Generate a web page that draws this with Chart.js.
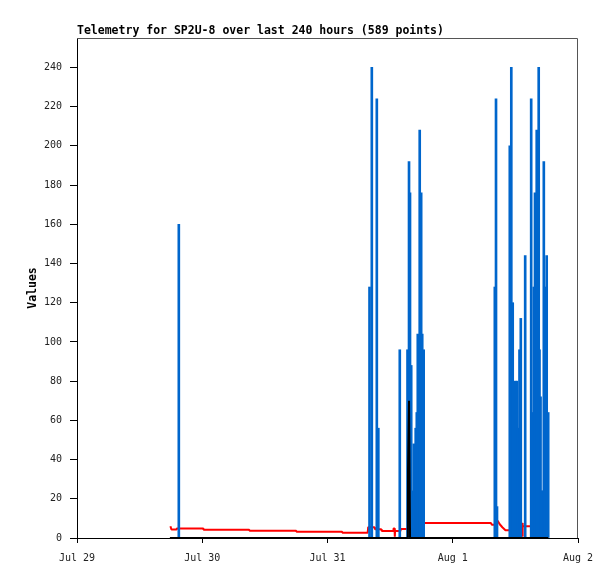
<!DOCTYPE html>
<html>
<head>
<meta charset="utf-8">
<script src="https://cdn.jsdelivr.net/npm/chart.js@4/dist/chart.umd.min.js"></script>
<style>
  body { margin: 0; background: #fff; }
  #box { width: 615px; height: 579px; }
</style>
</head>
<body>
<div id="box"><canvas id="telemetry-chart"></canvas></div>
<script>
// hours since Jul 29 00:00
const xTickLabels = ['Jul 29', 'Jul 30', 'Jul 31', 'Aug 1', 'Aug 2']
const xTickHours = [0, 24, 48, 72, 96]
const yTicks = [0, 20, 40, 60, 80, 100, 120, 140, 160, 180, 200, 220, 240]

const blueHours = [19.51, 56.05, 56.49, 57.45, 57.74, 61.85, 63.33, 63.62, 63.81, 64.04,
  64.23, 64.54, 64.90, 65.11, 65.30, 65.67, 65.95, 66.15, 66.43,
  80.06, 80.29, 80.48, 82.93, 83.22, 83.49, 83.99, 84.31, 84.56, 84.79, 85.04, 85.88,
  87.03, 87.24, 87.53, 87.76, 88.09, 88.47, 88.62, 88.82, 89.05, 89.20, 89.45, 89.68, 90.00, 90.29]
const blueValues = [160, 128, 240, 224, 56, 96, 96, 192, 176, 88,
  24, 48, 56, 64, 104, 208, 176, 104, 96,
  128, 224, 16, 200, 240, 120, 80, 80, 56, 96, 112, 144,
  224, 64, 128, 176, 208, 240, 96, 72, 24, 24, 192, 128, 144, 64]

const redHours = [17.9, 18.1, 19.0, 19.1, 24.2, 24.25, 33.0, 33.05, 42.0, 42.05, 50.8, 50.85,
  55.7, 55.8, 57.0, 57.1, 58.3, 58.4, 60.6, 60.65, 60.85, 60.9, 60.95, 61.9, 62.0,
  64.3, 64.4, 65.8, 65.9, 79.3, 79.5, 80.0, 80.6, 81.0, 81.5, 82.1, 83.3, 83.5,
  85.2, 85.3, 85.35, 85.45, 86.8]
const redValues = [6.0, 4.3, 4.3, 4.8, 4.8, 4.2, 4.2, 3.7, 3.7, 3.2, 3.2, 2.7,
  2.7, 5.5, 5.5, 4.4, 4.4, 3.6, 3.6, 4.9, 4.9, 0.6, 3.6, 3.6, 4.6,
  4.6, 6.6, 6.6, 7.7, 7.7, 6.8, 6.8, 8.8, 7.0, 5.5, 4.0, 4.0, 4.6,
  4.6, 7.7, 0.7, 6.0, 6.0]

const blackHours = [17.8, 63.4, 63.43, 63.62, 63.78, 63.82, 90.3]
const blackValues = [0, 0, 35, 70, 70, 0, 0]

const ctx = document.querySelector('#telemetry-chart')
const mono = '"DejaVu Sans Mono", "Liberation Mono", monospace'

function pontos(xs, ys) {
  return xs.map((x, i) => ({ x: x, y: ys[i] }))
}

// title over the plot and the grey top/right frame
const moldura = {
  id: 'moldura',
  beforeDatasetsDraw(chart) {
    const c = chart.ctx
    const a = chart.chartArea
    c.save()
    c.strokeStyle = '#555'
    c.lineWidth = 1
    c.beginPath()
    c.moveTo(a.left, a.top + 0.5)
    c.lineTo(a.right - 0.5, a.top + 0.5)
    c.lineTo(a.right - 0.5, a.bottom)
    c.stroke()
    c.fillStyle = '#000'
    c.font = 'bold 11.5px ' + mono
    c.textBaseline = 'alphabetic'
    c.fillText('Telemetry for SP2U-8 over last 240 hours (589 points)', a.left, a.top - 4)
    c.restore()
  }
}

var chart = new Chart(ctx, {
  type: 'bar',
  data: {
    datasets: [
      {
        type: 'line',
        data: pontos(blackHours, blackValues),
        borderColor: '#000',
        borderWidth: 2,
        borderJoinStyle: 'bevel',
        pointRadius: 0,
        clip: 4,
        order: 0
      },
      {
        data: pontos(blueHours, blueValues),
        backgroundColor: '#0066cc',
        borderWidth: 0,
        barThickness: 2,
        order: 1
      },
      {
        type: 'line',
        data: pontos(redHours, redValues),
        borderColor: '#ff0000',
        borderWidth: 2,
        borderJoinStyle: 'bevel',
        pointRadius: 0,
        clip: 4,
        order: 2
      }
    ]
  },
  options: {
    responsive: true,
    maintainAspectRatio: false,
    animation: false,
    layout: { padding: { left: 0, top: 38, right: 37, bottom: 0 } },
    plugins: { legend: { display: false }, tooltip: { enabled: false } },
    scales: {
      x: {
        type: 'linear',
        min: 0,
        max: 96,
        offset: false,
        afterFit: s => { s.height = 41 },
        afterBuildTicks: s => { s.ticks = xTickHours.map(v => ({ value: v })) },
        ticks: {
          autoSkip: false,
          maxRotation: 0,
          padding: 9,
          color: '#222',
          font: { family: mono, size: 10 },
          callback: (v, i) => xTickLabels[i]
        },
        grid: {
          display: true,
          offset: false,
          drawOnChartArea: false,
          drawTicks: true,
          tickLength: 5,
          tickWidth: 1,
          tickColor: '#000',
          color: '#000'
        },
        border: { color: '#000' }
      },
      y: {
        min: 0,
        max: 255,
        afterFit: s => { s.width = 77 },
        afterBuildTicks: s => { s.ticks = yTicks.map(v => ({ value: v })) },
        ticks: {
          padding: 8,
          color: '#222',
          font: { family: mono, size: 10 }
        },
        grid: { drawOnChartArea: false, tickLength: 7, tickColor: '#000', color: '#000' },
        border: { color: '#000' },
        title: {
          display: true,
          text: 'Values',
          color: '#000',
          padding: { top: 26, bottom: 0 },
          font: { family: mono, size: 11.5, weight: 'bold' }
        }
      }
    }
  },
  plugins: [moldura]
})
</script>
</body>
</html>
